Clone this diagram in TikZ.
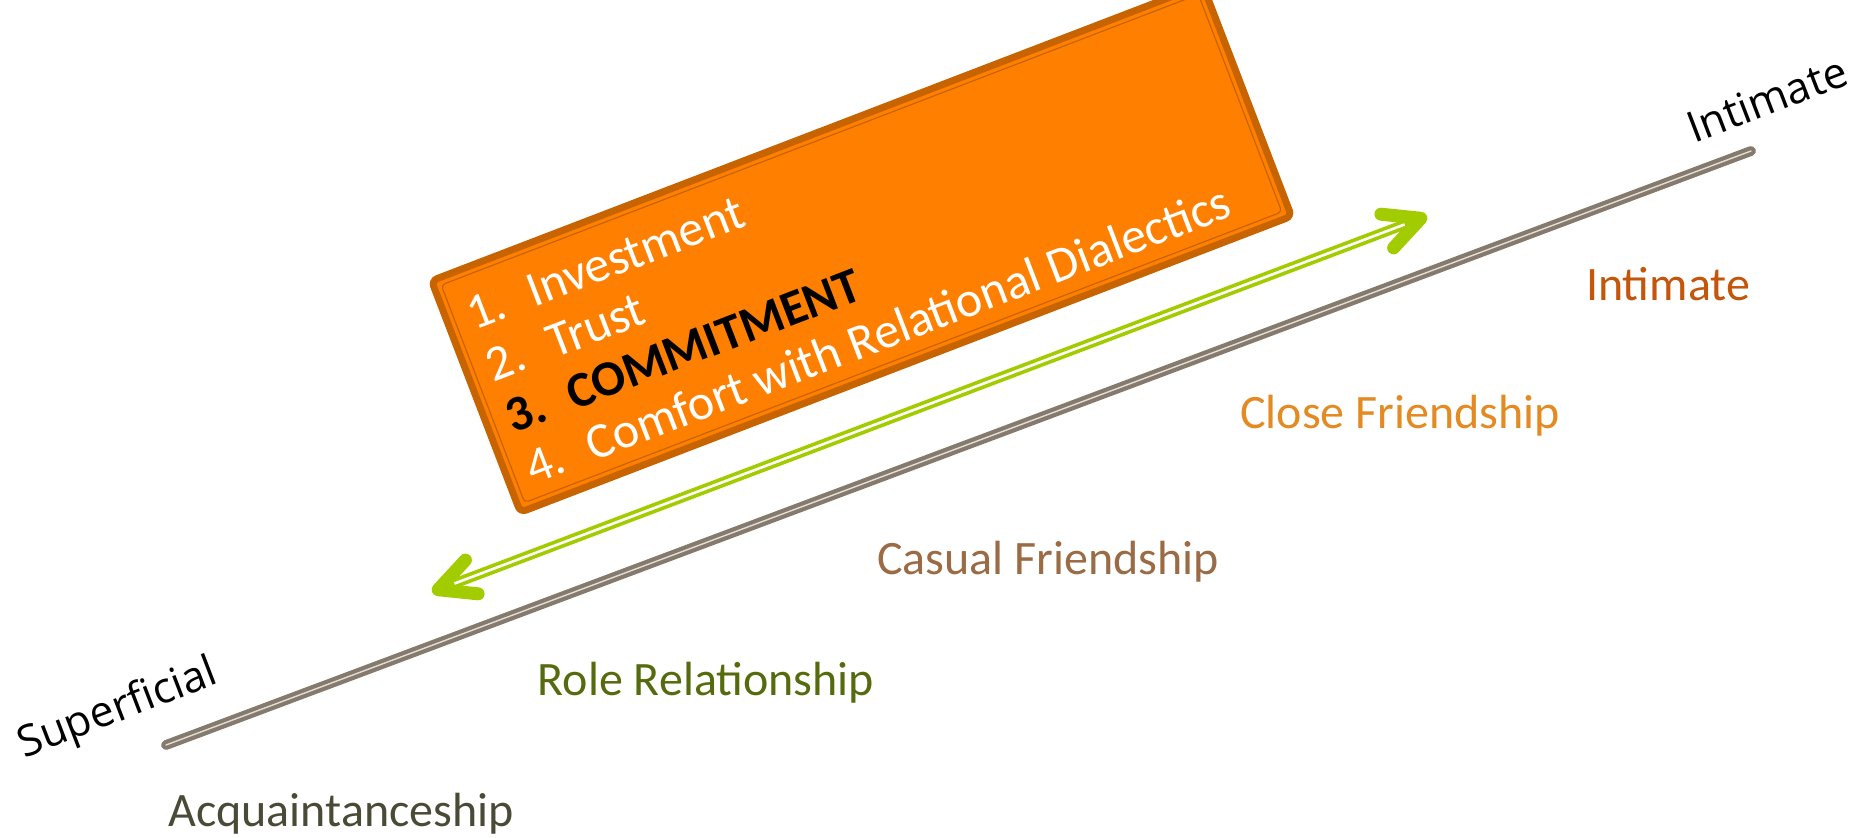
\documentclass[tikz,border=0pt]{standalone}
\usepackage{fontspec}
\setmainfont{Carlito}
\newfontfamily\endfont{Open Sans}
\usepackage{tikz}
\usetikzlibrary{arrows.meta, positioning, calc}

\definecolor{boxfill}{HTML}{FF7F00}
\definecolor{boxline}{HTML}{C86400}
\definecolor{arrowgreen}{HTML}{A2CC00}
\definecolor{linegray}{HTML}{857A6B}
\definecolor{intimatecol}{HTML}{C4560C}
\definecolor{closecol}{HTML}{E38A22}
\definecolor{casualcol}{HTML}{9A6B44}
\definecolor{rolecol}{HTML}{566B0E}
\definecolor{acqcol}{HTML}{4A4B36}

\begin{document}
\begin{tikzpicture}[
                x=0.5pt, y=0.5pt,
                % styles
                stage/.style={inner sep=0pt, font=\fontsize{24}{28}\selectfont},
                pole/.style={inner sep=0pt, font=\endfont\fontsize{21.5}{26}\selectfont, text=black},
                orangebox/.style={draw=boxline, fill=boxfill, line width=3.5pt, rounded corners=3pt, minimum width=413pt, minimum height=124pt, inner sep=0pt},
                innerframe/.style={draw=boxline, line width=0.6pt, rounded corners=2pt, minimum width=405.5pt, minimum height=116.5pt, inner sep=0pt},
                itemlist/.style={inner sep=0pt, align=left, text=white, font=\fontsize{25}{27.5}\selectfont},
                scaleline/.style={draw=linegray, double=white!75!linegray, line width=2.1pt, double distance=0.7pt, line cap=round},
                barb/.tip={Straight Barb[length=18pt, width=18pt, line width=6.5pt, round]},
                twoway/.style={draw=arrowgreen, line width=5pt, barb-barb},
                twowaycore/.style={draw=white, line width=1.3pt, shorten <=12pt, shorten >=12pt}
            ]
                \useasboundingbox (0,0) rectangle (1855,837);
                \clip (0,0) rectangle (1855,837);

                % the scale
                \coordinate (lo) at (166,92);
                \coordinate (hi) at (1751,686);
                \draw[scaleline] (lo) -- (hi);
                \node[pole, rotate=21] (superficial) at (118,127) {Superficial};
                \node[pole, rotate=21] (intimatepole) at (1767,738) {Intimate};

                % stages
                \node[stage, text=intimatecol] (intimate) at (1668,553) {Intimate};
                \node[stage, text=closecol] (close) at (1400,421) {Close Friendship};
                \node[stage, text=casualcol] (casual) at (1048,275) {Casual Friendship};
                \node[stage, text=rolecol] (role) at (706,154) {Role Relationship};
                \node[stage, text=acqcol] (acq) at (341,23) {Acquaintanceship};

                % box with the list
                \begin{scope}[shift={(861.5,588.5)}, rotate=21, transform shape]
                    \node[orangebox] (box) at (0,0) {};
                    \node[innerframe] (frame) at (box.center) {};
                    \node[itemlist, anchor=west] (items) at (-391.5,-4.5) {%
                        \makebox[32.5pt][l]{1.}Investment\\
                        \makebox[32.5pt][l]{2.}Trust\\
                        {\color{black}\bfseries\makebox[32.5pt][l]{3.}COMMITMENT}\\
                        \makebox[32.5pt][l]{4.}Comfort with Relational Dialectics};
                \end{scope}

                % arrow
                \coordinate (back) at (432,245);
                \coordinate (forth) at (1427,621);
                \draw[twoway] (back) -- (forth);
                \draw[twowaycore] (back) -- (forth);

            \end{tikzpicture}
\end{document}
